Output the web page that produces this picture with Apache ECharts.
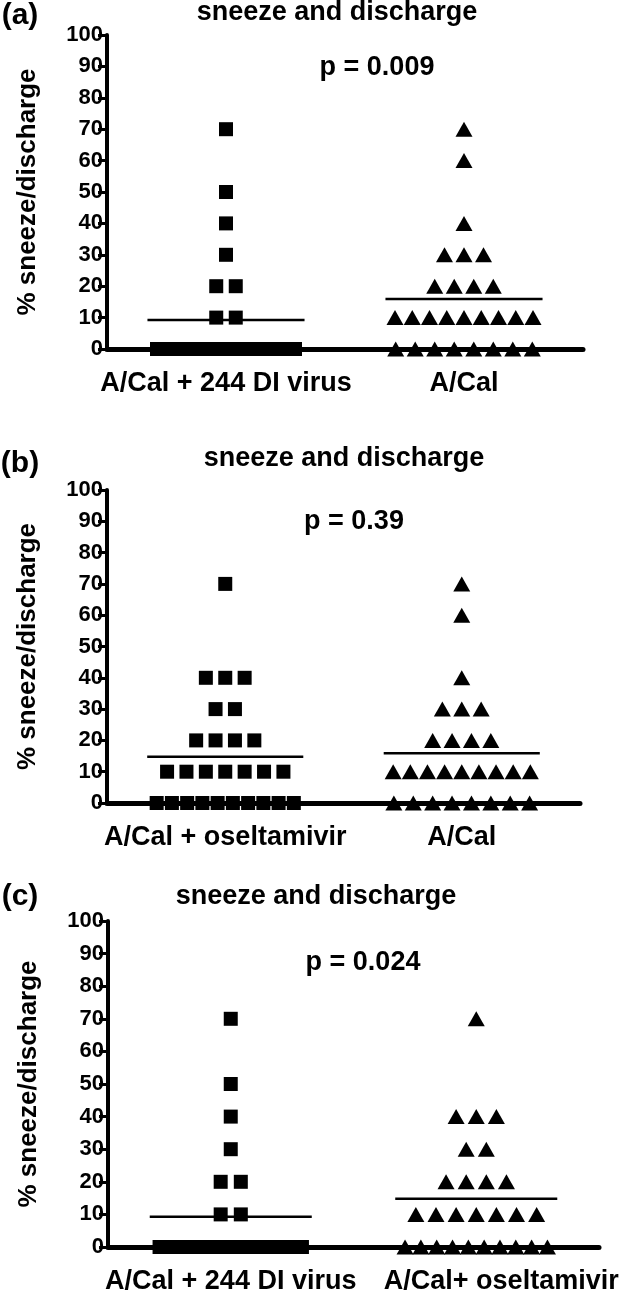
<!DOCTYPE html>
<html>
<head>
<meta charset="utf-8">
<script src="https://cdn.jsdelivr.net/npm/echarts@6/dist/echarts.min.js"></script>
<style>
  html, body { margin: 0; padding: 0; background: #fff; }
  #chart { width: 632px; height: 1295px; }
</style>
</head>
<body>
<div id="chart"></div>
<script>
// categories of each panel
var categoriesA = ['A/Cal + 244 DI virus', 'A/Cal'];
var categoriesB = ['A/Cal + oseltamivir', 'A/Cal'];
var categoriesC = ['A/Cal + 244 DI virus', 'A/Cal+ oseltamivir'];

// % sneeze/discharge per animal
var diVirus = [70, 50, 40, 30, 20, 20, 10, 10,
  0, 0, 0, 0, 0, 0, 0, 0, 0, 0, 0, 0, 0, 0, 0, 0, 0, 0, 0];
var aCal = [70, 60, 40, 30, 30, 30, 20, 20, 20, 20,
  10, 10, 10, 10, 10, 10, 10, 10, 10,
  0, 0, 0, 0, 0, 0, 0, 0];
var oseltamivir = [70, 40, 40, 40, 30, 30, 20, 20, 20, 20,
  10, 10, 10, 10, 10, 10, 10,
  0, 0, 0, 0, 0, 0, 0, 0, 0, 0];

var pValues = ['p = 0.009', 'p = 0.39', 'p = 0.024'];
var panelLetters = ['(a)', '(b)', '(c)'];
var panelTitle = 'sneeze and discharge';
var yName = '% sneeze/discharge';

var FONT = '"Liberation Sans", Arial, sans-serif';

var myChart = echarts.init(document.getElementById('chart'));

// spread points of equal value side by side, like a column scatter
function spread(values, center) {
  var rows = {};
  values.forEach(function (v) { rows[v] = (rows[v] || 0) + 1; });
  var out = [];
  Object.keys(rows).forEach(function (key) {
    var k = rows[key];
    var step = k > 1 ? Math.min(0.082, 0.58 / (k - 1)) : 0;
    for (var i = 0; i < k; i++) {
      out.push([center + (i - (k - 1) / 2) * step, Number(key)]);
    }
  });
  return out;
}

function mean(values) {
  var s = 0;
  values.forEach(function (v) { s += v; });
  return s / values.length;
}

var panels = [
  { cats: categoriesA, groups: [diVirus, aCal], symbols: ['rect', 'triangle'],
    grid: { left: 107, top: 35, width: 476, height: 314 },
    letter: [20, 16], title: [337, 13], p: [377, 68] },
  { cats: categoriesB, groups: [oseltamivir, aCal], symbols: ['rect', 'triangle'],
    grid: { left: 107, top: 490, width: 473, height: 313 },
    letter: [20, 464], title: [344, 459], p: [354, 522] },
  { cats: categoriesC, groups: [diVirus, oseltamivir], symbols: ['rect', 'triangle'],
    grid: { left: 108, top: 921, width: 491, height: 327 },
    letter: [20, 897], title: [316, 897], p: [363, 963] }
];

var grids = [], xAxes = [], yAxes = [], series = [], graphics = [];

panels.forEach(function (pn, idx) {
  grids.push(pn.grid);

  // visible category axis (labels + centre ticks)
  xAxes.push({
    type: 'category',
    gridIndex: idx,
    data: pn.cats.map(function (c, j) {
      if (idx === 2 && j === 1) {
        return { value: c, textStyle: { padding: [0, 0, 0, 50] } };
      }
      return c;
    }),
    axisLine: { lineStyle: { color: '#000', width: 5 } },
    axisTick: { alignWithLabel: true, length: 7, lineStyle: { color: '#000', width: 3 } },
    axisLabel: {
      interval: 0,
      margin: 21,
      color: '#000',
      fontSize: 27,
      fontWeight: 'bold',
      fontFamily: FONT
    },
    splitLine: { show: false }
  });
  // hidden value axis for placing the points
  xAxes.push({
    type: 'value',
    gridIndex: idx,
    min: 0,
    max: 2,
    show: false
  });

  yAxes.push({
    type: 'value',
    gridIndex: idx,
    min: 0,
    max: 100,
    interval: 10,
    name: yName,
    nameLocation: 'middle',
    nameRotate: 90,
    nameGap: 66,
    nameTextStyle: { color: '#000', fontSize: 26, fontWeight: 'bold', fontFamily: FONT },
    axisLine: { show: true, lineStyle: { color: '#000', width: 4 } },
    axisTick: { show: true, length: 9, lineStyle: { color: '#000', width: 3 } },
    axisLabel: { margin: 4, color: '#000', fontSize: 22, fontWeight: 'bold', fontFamily: FONT },
    splitLine: { show: false }
  });

  pn.groups.forEach(function (vals, j) {
    var center = j + 0.5;
    series.push({
      type: 'scatter',
      xAxisIndex: idx * 2 + 1,
      yAxisIndex: idx,
      symbol: pn.symbols[j],
      symbolSize: pn.symbols[j] === 'rect' ? [14, 14] : [17, 15],
      itemStyle: { color: '#000', opacity: 1 },
      data: spread(vals, center),
      z: 3
    });
    var m = mean(vals);
    series.push({
      type: 'line',
      xAxisIndex: idx * 2 + 1,
      yAxisIndex: idx,
      symbol: 'none',
      lineStyle: { color: '#000', width: 2.5 },
      data: [[center - 0.33, m], [center + 0.33, m]],
      z: 4
    });
  });

  graphics.push({
    type: 'text', x: pn.letter[0], y: pn.letter[1],
    style: { text: panelLetters[idx], font: 'bold 30px ' + FONT, fill: '#000',
      textAlign: 'center', textVerticalAlign: 'middle' }
  });
  graphics.push({
    type: 'text', x: pn.title[0], y: pn.title[1],
    style: { text: panelTitle, font: 'bold 27px ' + FONT, fill: '#000',
      textAlign: 'center', textVerticalAlign: 'middle' }
  });
  graphics.push({
    type: 'text', x: pn.p[0], y: pn.p[1],
    style: { text: pValues[idx], font: 'bold 27px ' + FONT, fill: '#000',
      textAlign: 'center', textVerticalAlign: 'middle' }
  });
});

var option = {
  animation: false,
  backgroundColor: '#fff',
  grid: grids,
  xAxis: xAxes,
  yAxis: yAxes,
  series: series,
  graphic: graphics
};
option && myChart.setOption(option);
</script>
</body>
</html>
